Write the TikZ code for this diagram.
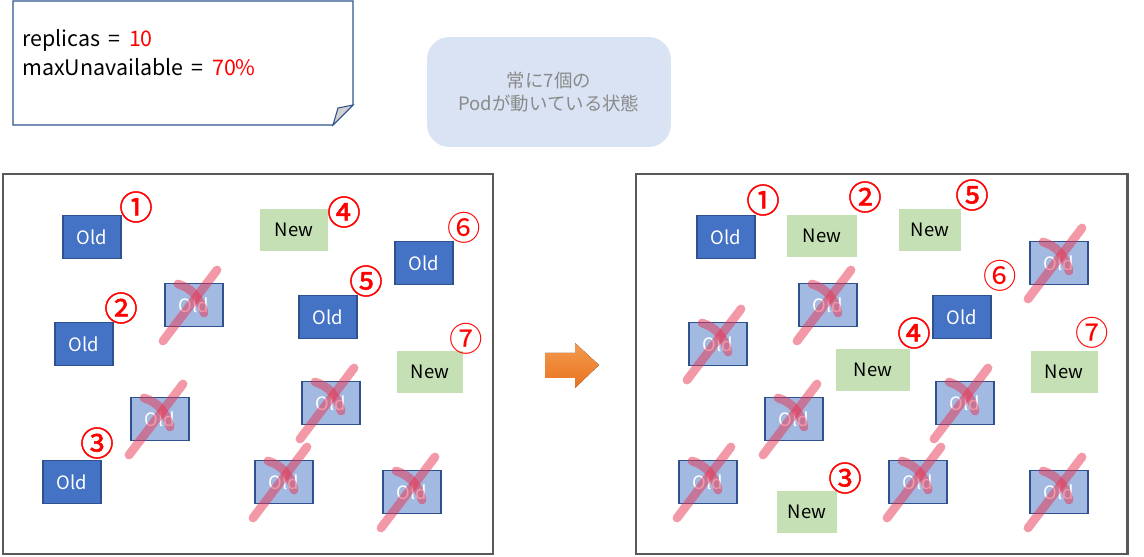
\documentclass[tikz,border=0pt]{standalone}
\usepackage{fontspec}
\setmainfont{Noto Sans CJK JP}
\newfontfamily\numheavy[FakeBold=1.5]{Noto Sans CJK JP}
\definecolor{oldblue}{HTML}{4472C4}
\definecolor{oldedge}{HTML}{2F528F}
\definecolor{goneblue}{HTML}{A2B9E2}
\definecolor{newgreen}{HTML}{C5E0B4}
\definecolor{framegray}{HTML}{595959}
\definecolor{stateblue}{HTML}{DAE3F3}
\definecolor{stategray}{HTML}{8A8A8A}
\definecolor{strikered}{HTML}{E8324F}
\definecolor{arrowtop}{HTML}{F49A4E}
\definecolor{arrowbottom}{HTML}{E8731F}

\begin{document}
\begin{tikzpicture}[x=0.02cm, y=-0.02cm, font=\fontsize{10.5}{12.6}\selectfont,
  oldpod/.style={draw=oldedge, line width=0.6pt, fill=oldblue, text=white, minimum width=1.16cm, minimum height=0.86cm, inner sep=0pt},
  gonepod/.style={oldpod, fill=goneblue},
  newpod/.style={fill=newgreen, minimum height=0.84cm, inner sep=0pt},
  podnum/.style={text=red, font=\fontsize{19}{19}\selectfont\numheavy, inner sep=0pt},
  thinnum/.style={podnum, font=\fontsize{19}{19}\selectfont},
  strike/.pic={
    \draw[line width=5pt, line cap=round, strikered, draw opacity=0.5] (23,-35) -- (-31,36);
    \draw[line width=5pt, line cap=round, strikered, draw opacity=0.5] (-16,-21) .. controls (-3,-17) and (6,-8) .. (10,8);
  }]
  \useasboundingbox (0,0) rectangle (1144,557);

  % settings note
  \draw[oldedge, line width=0.8pt, fill=white] (13,1) -- (353,1) -- (353,105) -- (333,125) -- (13,125) -- cycle;
  \draw[oldedge, line width=0.6pt, fill=black!18] (333,125) -- (338,108) -- (353,105) -- cycle;
  \node[anchor=north west, align=left, inner sep=0pt, font=\fontsize{12.2}{16.4}\selectfont] (spec) at (22,29) {replicas \,=\, \textcolor{red}{10}\\maxUnavailable \,=\, \textcolor{red}{70\%}};

  \node[fill=stateblue, rounded corners=0.45cm, minimum width=4.88cm, minimum height=2.2cm, text=stategray, align=center, font=\fontsize{10.5}{12.6}\selectfont] (state) at (549,92) {常に7個の\\Podが動いている状態};

  % before / after
  \draw[framegray, line width=1.7pt] (3,174) rectangle (493,554);
  \draw[framegray, line width=1.7pt] (636,174) rectangle (1127,554);
  \fill[top color=arrowtop, bottom color=arrowbottom] (545,353) -- (575,353) -- (575,343) -- (599,365) -- (575,388) -- (575,378) -- (545,378) -- cycle;

  % left
  \node[oldpod] (lo1) at (92,237) {Old};
  \node[oldpod] (lo2) at (84,344) {Old};
  \node[oldpod] (lo3) at (72,482) {Old};
  \node[newpod, minimum width=1.36cm] (ln4) at (294,230) {New};
  \node[oldpod] (lo5) at (328,317) {Old};
  \node[oldpod] (lo6) at (424,263) {Old};
  \node[newpod, minimum width=1.32cm] (ln7) at (430,372) {New};
  \node[gonepod] (lx1) at (194,305) {Old};
  \node[gonepod] (lx2) at (160,419) {Old};
  \node[gonepod] (lx3) at (331,403) {Old};
  \node[gonepod] (lx4) at (284,482) {Old};
  \node[gonepod] (lx5) at (412,492) {Old};
  \foreach \n in {lx1,lx2,lx3,lx4,lx5} \pic at (\n) {strike};
  \node[podnum] (lk1) at (136,207) {①};
  \node[podnum] (lk2) at (121,308) {②};
  \node[podnum] (lk3) at (97,443) {③};
  \node[podnum] (lk4) at (344,212) {④};
  \node[podnum] (lk5) at (366,281) {⑤};
  \node[thinnum] (lk6) at (464,228) {⑥};
  \node[thinnum] (lk7) at (466,339) {⑦};

  % right
  \node[oldpod] (ro1) at (726,237) {Old};
  \node[newpod, minimum width=1.42cm] (rn2) at (822,236) {New};
  \node[newpod, minimum width=1.22cm] (rn3) at (807,512) {New};
  \node[newpod, minimum width=1.48cm] (rn4) at (873,370) {New};
  \node[newpod, minimum width=1.26cm] (rn5) at (930,230) {New};
  \node[oldpod] (ro6) at (962,317) {Old};
  \node[newpod, minimum width=1.34cm] (rn7) at (1064,372) {New};
  \node[gonepod] (rx1) at (718,344) {Old};
  \node[gonepod] (rx2) at (828,305) {Old};
  \node[gonepod] (rx3) at (1059,263) {Old};
  \node[gonepod] (rx4) at (794,419) {Old};
  \node[gonepod] (rx5) at (965,403) {Old};
  \node[gonepod] (rx6) at (708,482) {Old};
  \node[gonepod] (rx7) at (918,482) {Old};
  \node[gonepod] (rx8) at (1059,492) {Old};
  \foreach \n in {rx1,rx2,rx3,rx4,rx5,rx6,rx7,rx8} \pic at (\n) {strike};
  \node[podnum] (rk1) at (763,200) {①};
  \node[podnum] (rk2) at (865,197) {②};
  \node[podnum] (rk3) at (845,478) {③};
  \node[podnum] (rk4) at (914,333) {④};
  \node[podnum] (rk5) at (972,195) {⑤};
  \node[thinnum] (rk6) at (1000,276) {⑥};
  \node[thinnum] (rk7) at (1092,333) {⑦};
\end{tikzpicture}
\end{document}
